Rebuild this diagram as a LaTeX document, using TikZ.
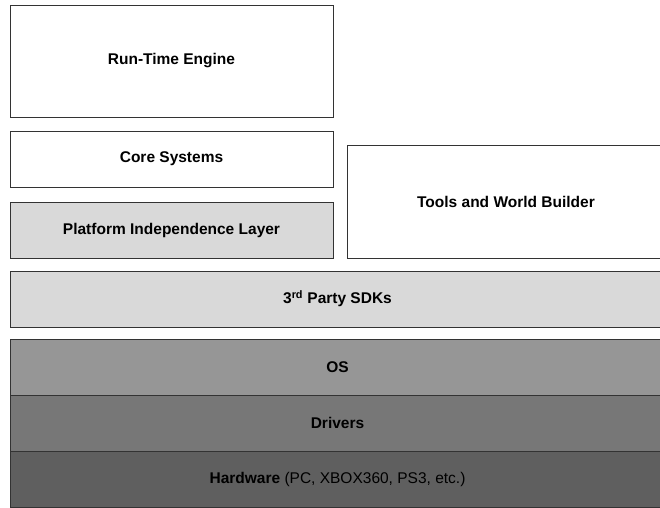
\documentclass[tikz,border=0pt]{standalone}
\usepackage{fontspec}
\setmainfont{Liberation Sans}
\usepackage{tikz}
\usepackage{color}
\definecolor{layerLight}{RGB}{217,217,217}
\definecolor{layerOS}{RGB}{150,150,150}
\definecolor{layerDrivers}{RGB}{119,119,119}
\definecolor{layerHardware}{RGB}{95,95,95}
\definecolor{layerEdge}{RGB}{51,51,51}
\newcommand{\layerfont}{\fontsize{15.5}{18}\selectfont\bfseries}

\begin{document}
\begin{tikzpicture}[x=1pt, y=-1pt,
		layer/.style={draw=layerEdge, line width=1pt, fill=white, font=\layerfont, inner sep=0pt},
		half/.style={layer, minimum width=323pt},
		wide/.style={layer, minimum width=655pt, minimum height=56pt}]
		\clip (0,0) rectangle (660,507);
		
		% left column
		\node[half, minimum height=112pt] (engine) at (171.5,61) {Run-Time Engine};
		\node[half, minimum height=56pt] (core) at (171.5,159) {Core Systems};
		\node[half, minimum height=56pt, fill=layerLight] (platform) at (171.5,230) {Platform Independence Layer};
		
		% right column
		\node[layer, minimum width=318pt, minimum height=113pt] (tools) at (506,201.5) {Tools and World Builder};
		
		% full width layers
		\node[wide, fill=layerLight] (sdk) at (337.5,299) {3\textsuperscript{rd} Party SDKs};
		\node[wide, fill=layerOS] (os) at (337.5,367) {OS};
		\node[wide, fill=layerDrivers] (drivers) at (337.5,423) {Drivers};
		\node[wide, fill=layerHardware] (hardware) at (337.5,479) {Hardware \textmd{(PC, XBOX360, PS3, etc.)}};
	\end{tikzpicture}
\end{document}
